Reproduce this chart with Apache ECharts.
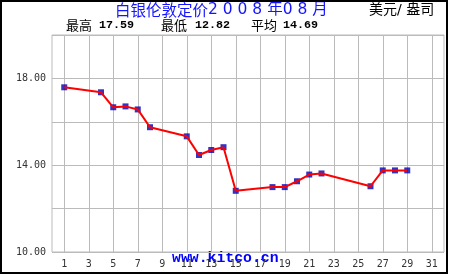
<!DOCTYPE html>
<html>
<head>
<meta charset="utf-8">
<script src="https://cdn.jsdelivr.net/npm/echarts@6/dist/echarts.min.js"></script>
<style>html,body{margin:0;padding:0;background:#fff}#c{width:450px;height:275px}</style>
</head>
<body>
<div id="c"></div>
<script>
var days = [1,4,5,6,7,8,11,12,13,14,15,18,19,20,21,22,26,27,28,29];
var prices = [17.59,17.36,16.67,16.71,16.57,15.75,15.33,14.47,14.70,14.83,12.82,12.99,12.99,13.26,13.57,13.62,13.03,13.76,13.76,13.76];
var xTicks = [1,3,5,7,9,11,13,15,17,19,21,23,25,27,29,31];
var yLabels = [10,14,18];
var titleMain = '白银伦敦定价';
var titleDate = '2 0 0 8 年0 8 月';
var unitText = '美元/ 盎司';
var stats = [['最高','17.59'],['最低','12.82'],['平均','14.69']];

var pts = days.map(function(d,i){return [d, prices[i]];});
var chart = echarts.init(document.getElementById('c'), null, {renderer:'canvas'});
var monoFont = "'DejaVu Sans Mono', monospace";
var statX = [[66,99],[161,195],[251,283]];
var graphics = [
  {type:'rect', shape:{x:1,y:1,width:446,height:272}, style:{fill:'none',stroke:'#000',lineWidth:2}, z:100},
  {type:'text', x:115, y:10, style:{text:titleMain, fill:'#1414ff', font:"15.5px 'Noto Sans CJK SC'", textVerticalAlign:'middle'}},
  {type:'text', x:208, y:10, style:{text:titleDate, fill:'#1414ff', font:"15.5px 'DejaVu Sans', 'Noto Sans CJK SC'", textVerticalAlign:'middle'}},
  {type:'text', x:369, y:10, style:{text:unitText, fill:'#000', font:"14px 'DejaVu Sans', 'Noto Sans CJK SC'", textVerticalAlign:'middle'}},
  {type:'text', x:172, y:251, style:{text:'www.kitco.cn', fill:'#0000ff', font:"bold 14.8px 'Liberation Mono', monospace", textVerticalAlign:'alphabetic'}}
];
stats.forEach(function(s,i){
  graphics.push({type:'text', x:statX[i][0], y:25, style:{text:s[0], fill:'#000', font:"13px 'Noto Sans CJK SC'", textVerticalAlign:'middle'}});
  graphics.push({type:'text', x:statX[i][1], y:25, style:{text:s[1], fill:'#000', font:"bold 11.7px 'Liberation Mono', monospace", textVerticalAlign:'middle'}});
});

chart.setOption({
  animation:false,
  backgroundColor:'#fff',
  grid:{left:52, top:35, width:392, height:217, show:true, borderColor:'#bbb', borderWidth:1, backgroundColor:'transparent', outerBoundsMode:'none'},
  xAxis:{type:'value', min:0, max:32,
    axisLine:{show:false}, axisTick:{show:false, customValues:xTicks},
    axisLabel:{customValues:xTicks, color:'#333', fontFamily:monoFont, fontSize:10, margin:7},
    splitLine:{show:true, lineStyle:{color:'#bbb', width:1}}},
  yAxis:{type:'value', min:10, max:20, interval:2,
    axisLine:{show:false}, axisTick:{show:false},
    axisLabel:{color:'#333', fontFamily:monoFont, fontSize:10, margin:6,
      formatter:function(v){return yLabels.indexOf(v)>=0 ? v.toFixed(2) : '';}},
    splitLine:{show:true, lineStyle:{color:'#bbb', width:1}}},
  graphic:graphics,
  series:[
    {type:'scatter', data:pts, symbol:'rect', symbolSize:6, itemStyle:{color:'#0000b4'}, z:2},
    {type:'line', data:pts, showSymbol:false, symbol:'none', lineStyle:{color:'#ff0000', width:2}, z:3}
  ]
});
</script>
</body>
</html>
